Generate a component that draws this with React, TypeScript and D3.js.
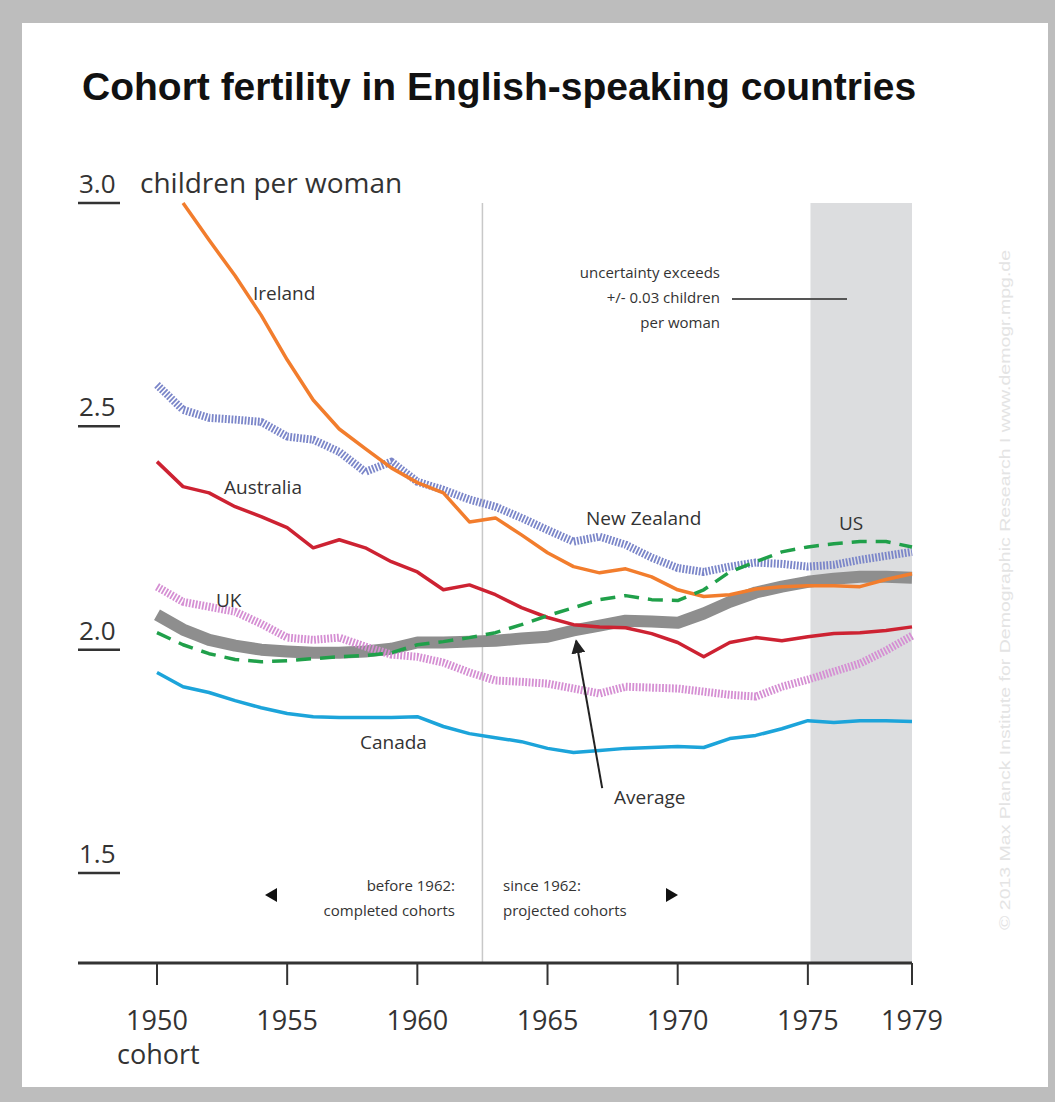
import * as d3 from 'd3';

const years = d3.range(1950, 1980);

const ireland = [null, 3.0, 2.917, 2.837, 2.749, 2.649, 2.559, 2.494, 2.45, 2.407, 2.374, 2.351, 2.286, 2.295, 2.257, 2.217, 2.186, 2.172, 2.181, 2.163, 2.134, 2.119, 2.123, 2.136, 2.141, 2.143, 2.143, 2.141, 2.157, 2.17];
const newZealand = [2.593, 2.537, 2.519, 2.515, 2.51, 2.477, 2.47, 2.443, 2.398, 2.421, 2.376, 2.358, 2.336, 2.32, 2.295, 2.268, 2.242, 2.253, 2.235, 2.206, 2.183, 2.174, 2.186, 2.195, 2.192, 2.186, 2.19, 2.201, 2.21, 2.219];
const australia = [2.421, 2.365, 2.351, 2.32, 2.298, 2.273, 2.228, 2.246, 2.228, 2.197, 2.174, 2.134, 2.145, 2.123, 2.094, 2.072, 2.056, 2.051, 2.049, 2.036, 2.016, 1.984, 2.016, 2.027, 2.02, 2.029, 2.036, 2.038, 2.043, 2.051];
const uk = [2.141, 2.107, 2.096, 2.085, 2.058, 2.027, 2.022, 2.027, 2.007, 1.989, 1.984, 1.971, 1.949, 1.931, 1.928, 1.924, 1.913, 1.902, 1.917, 1.915, 1.913, 1.906, 1.899, 1.895, 1.917, 1.933, 1.951, 1.969, 1.998, 2.031];
const average = [2.078, 2.045, 2.022, 2.009, 2.0, 1.996, 1.993, 1.993, 1.996, 2.002, 2.016, 2.016, 2.018, 2.02, 2.025, 2.029, 2.043, 2.054, 2.065, 2.063, 2.06, 2.081, 2.107, 2.128, 2.141, 2.152, 2.159, 2.163, 2.163, 2.161];
const us = [2.038, 2.011, 1.991, 1.978, 1.973, 1.975, 1.98, 1.984, 1.987, 1.993, 2.011, 2.018, 2.027, 2.038, 2.056, 2.076, 2.094, 2.112, 2.121, 2.112, 2.11, 2.134, 2.174, 2.197, 2.219, 2.23, 2.237, 2.242, 2.242, 2.23];
const canada = [1.949, 1.917, 1.904, 1.886, 1.87, 1.857, 1.85, 1.848, 1.848, 1.848, 1.85, 1.828, 1.812, 1.803, 1.794, 1.779, 1.77, 1.774, 1.779, 1.781, 1.783, 1.781, 1.801, 1.808, 1.823, 1.841, 1.837, 1.841, 1.841, 1.839];

const yTicks = [3.0, 2.5, 2.0, 1.5];
const xTicks = [1950, 1955, 1960, 1965, 1970, 1975, 1979];

const sans = "'Open Sans', 'Noto Sans', sans-serif";

export default function App() {
	const width = 1055;
	const height = 1102;

	const x = d3.scaleLinear().domain([1950, 1979]).range([157, 912]);
	const y = d3.scaleLinear().domain([1.5, 3.0]).range([873, 203]);

	const line = d3.line<number | null>()
		.defined(d => d !== null)
		.x((_, i) => x(years[i]))
		.y(d => y(d as number));

	const series = [
		{ name: 'average', data: average, color: '#8e8e8e', w: 12, dash: null },
		{ name: 'uk', data: uk, color: '#d58fd3', w: 8, dash: '1.8 1.5' },
		{ name: 'nz', data: newZealand, color: '#7b86c9', w: 8, dash: '1.8 1.5' },
		{ name: 'canada', data: canada, color: '#1ca4da', w: 3.5, dash: null },
		{ name: 'australia', data: australia, color: '#cd2232', w: 3.5, dash: null },
		{ name: 'ireland', data: ireland, color: '#f27d2d', w: 3.5, dash: null },
		{ name: 'us', data: us, color: '#20a04a', w: 3.5, dash: '15 9' },
	];

	const top = y(3.0);
	const axisY = 963;

	return (
		<>
			<style>{'body{margin:0}'}</style>
			<svg width={width} height={height} style={{ display: 'block' }}>
				<rect x={0} y={0} width={width} height={height} fill="#bdbdbd" />
				<rect x={22} y={23} width={1026} height={1064} fill="#ffffff" />

				<text x={82} y={100} fontFamily="'Liberation Sans', Arial, sans-serif" fontWeight="bold" fontSize={39} fill="#111">
					Cohort fertility in English-speaking countries
				</text>

				{/* uncertainty band and projection split */}
				<rect x={x(1975.1)} y={top} width={x(1979) - x(1975.1)} height={axisY - top} fill="#dcdddf" />
				<line x1={x(1962.5)} x2={x(1962.5)} y1={top} y2={axisY} stroke="#c8c8c8" strokeWidth={1.5} />

				{/* y ticks */}
				{yTicks.map(t => (
					<g key={t}>
						<text x={79} y={y(t) - 10} fontFamily={sans} fontSize={26} fill="#333">{t.toFixed(1)}</text>
						<line x1={78} x2={120} y1={y(t)} y2={y(t)} stroke="#333" strokeWidth={2.5} />
					</g>
				))}
				<text x={140} y={y(3.0) - 10} fontFamily={sans} fontSize={28} fill="#333">children per woman</text>

				{/* series */}
				{series.map(s => (
					<path key={s.name} d={line(s.data) || ''} fill="none" stroke={s.color} strokeWidth={s.w}
						strokeDasharray={s.dash || undefined} strokeLinejoin="round" />
				))}

				{/* series labels */}
				<g fontFamily={sans} fontSize={19} fill="#333">
					<text x={253} y={300}>Ireland</text>
					<text x={224} y={494}>Australia</text>
					<text x={586} y={525}>New Zealand</text>
					<text x={839} y={530}>US</text>
					<text x={216} y={607}>UK</text>
					<text x={360} y={749}>Canada</text>
					<text x={614} y={804}>Average</text>
				</g>

				{/* average arrow */}
				<defs>
					<marker id="arr" viewBox="0 0 10 10" refX={9} refY={5} markerWidth={7} markerHeight={7} orient="auto">
						<path d="M0,0 L10,5 L0,10 z" fill="#222" />
					</marker>
				</defs>
				<line x1={x(1967.1)} y1={y(1.69)} x2={x(1966.1)} y2={y(2.02)} stroke="#222" strokeWidth={2} markerEnd="url(#arr)" />

				{/* uncertainty note */}
				<g fontFamily={sans} fontSize={15} fill="#333" textAnchor="end">
					<text x={720} y={278}>uncertainty exceeds</text>
					<text x={720} y={303}>+/- 0.03 children</text>
					<text x={720} y={328}>per woman</text>
				</g>
				<line x1={732} x2={847} y1={y(2.785)} y2={y(2.785)} stroke="#555" strokeWidth={2} />

				{/* completed / projected */}
				<g fontFamily={sans} fontSize={15} fill="#333">
					<text x={455} y={891} textAnchor="end">before 1962:</text>
					<text x={455} y={916} textAnchor="end">completed cohorts</text>
					<text x={503} y={891}>since 1962:</text>
					<text x={503} y={916}>projected cohorts</text>
				</g>
				<path d="M265,895 L277,888 L277,902 Z" fill="#111" />
				<path d="M678,895 L666,888 L666,902 Z" fill="#111" />

				{/* x axis */}
				<line x1={78} x2={x(1979)} y1={axisY} y2={axisY} stroke="#333" strokeWidth={3} />
				{xTicks.map(t => (
					<g key={t}>
						<line x1={x(t)} x2={x(t)} y1={axisY} y2={axisY + 22} stroke="#333" strokeWidth={2} />
						<text x={x(t)} y={1030} textAnchor="middle" fontFamily={sans} fontSize={27} fill="#333">{t}</text>
					</g>
				))}
				<text x={117} y={1064} fontFamily={sans} fontSize={27} fill="#333">cohort</text>

				{/* watermark */}
				<text transform="translate(1010,590) rotate(-90)" textAnchor="middle" fontFamily="'Liberation Sans', Arial, sans-serif"
					fontSize={15} fill="#e4e4e4" textLength={680} lengthAdjust="spacingAndGlyphs">
					© 2013 Max Planck Institute for Demographic Research I www.demogr.mpg.de
				</text>
			</svg>
		</>
	);
}
